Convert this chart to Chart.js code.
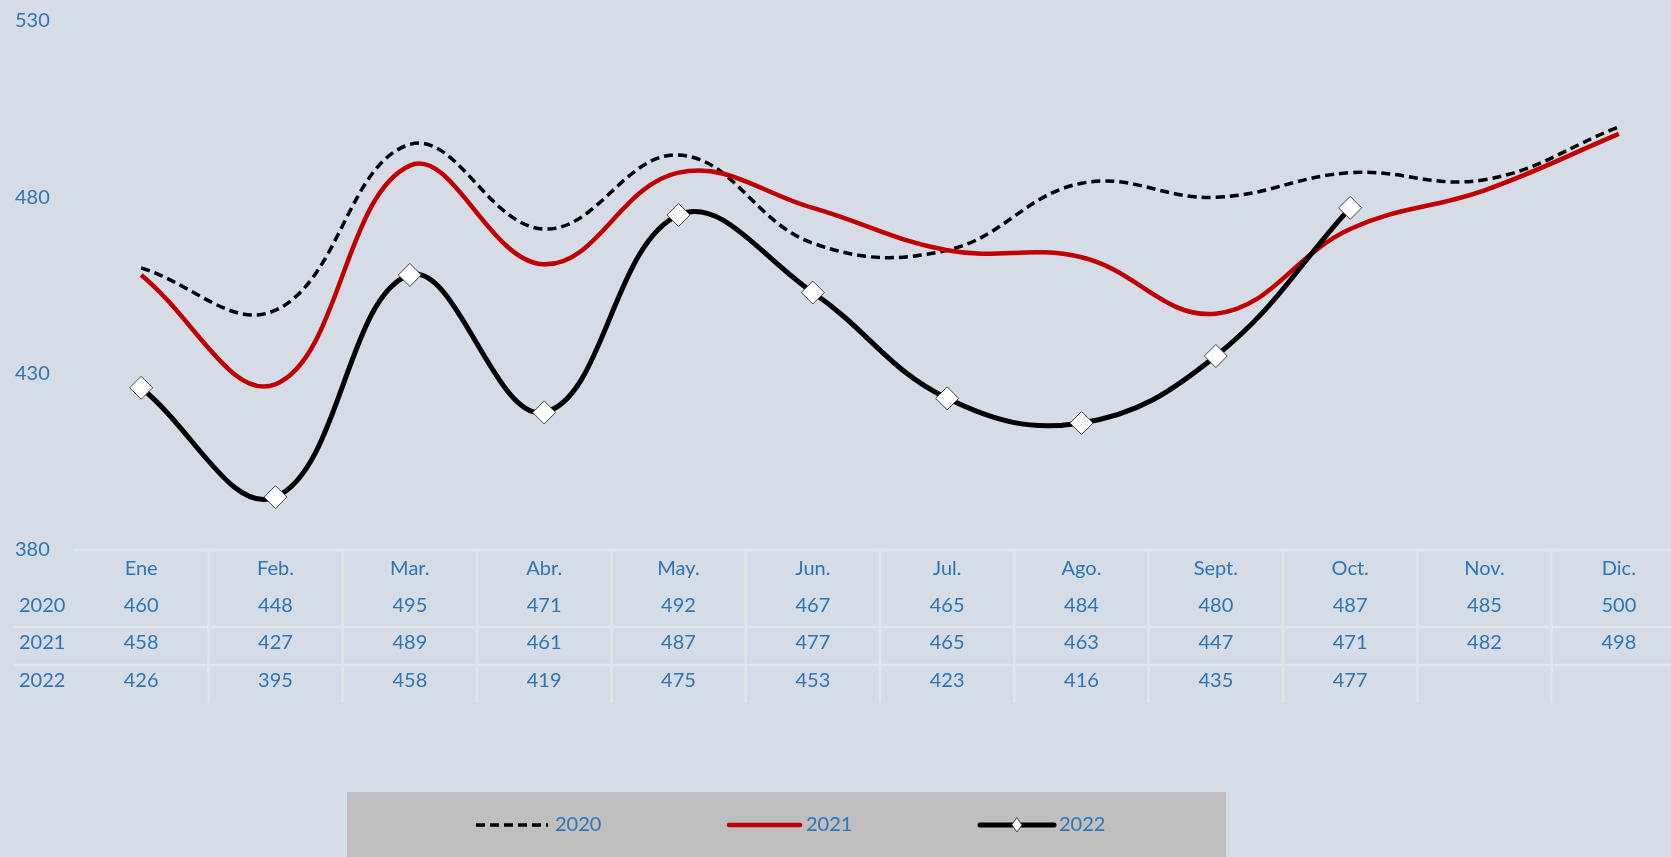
<!DOCTYPE html>
<html>
<head>
<meta charset="utf-8">
<script src="https://cdn.jsdelivr.net/npm/chart.js@4"></script>
<style>
  html, body { margin: 0; padding: 0; overflow: hidden; background: #d6dce5; }
  #wrap { position: relative; width: 1671px; height: 857px; overflow: hidden; }
  #chart { display: block; }
</style>
</head>
<body>
<!-- canvas is a bit wider than the page: the plot runs past the right edge, like the source sheet -->
<div id="wrap"><canvas id="chart" width="1686" height="857"></canvas></div>
<script>
// chart data
const months = ['Ene', 'Feb.', 'Mar.', 'Abr.', 'May.', 'Jun.', 'Jul.', 'Ago.', 'Sept.', 'Oct.', 'Nov.', 'Dic.'];
const seriesNames = ['2020', '2021', '2022'];
const values2020 = [460, 448, 495, 471, 492, 467, 465, 484, 480, 487, 485, 500];
const values2021 = [458, 427, 489, 461, 487, 477, 465, 463, 447, 471, 482, 498];
const values2022 = [426, 395, 458, 419, 475, 453, 423, 416, 435, 477, null, null];
const yTicks = [380, 430, 480, 530];

const textBlue = '#2e75b6';
const tableLine = '#e3e5e9';
const fontFamily = 'Lato, "Open Sans", sans-serif';

// draws the data table under the plot (months + values per series)
const dataTable = {
    id: 'dataTable',
    afterDraw(chart) {
        const { ctx, chartArea } = chart;
        const x = chart.scales.x;
        const step = x.getPixelForValue(1) - x.getPixelForValue(0);
        const top = chartArea.bottom;
        const right = chart.width;

        ctx.save();
        ctx.strokeStyle = tableLine;
        ctx.lineWidth = 2.5;
        ctx.beginPath();
        ctx.moveTo(chartArea.left - 1, top);
        ctx.lineTo(right, top);
        ctx.moveTo(13, top + 77);
        ctx.lineTo(right, top + 77);
        ctx.moveTo(13, top + 115);
        ctx.lineTo(right, top + 115);
        for (let i = 1; i < months.length; i++) {
            const xb = x.getPixelForValue(i) - step / 2;
            ctx.moveTo(xb, top + 1);
            ctx.lineTo(xb, top + 153);
        }
        ctx.stroke();

        ctx.fillStyle = textBlue;
        ctx.font = '20px ' + fontFamily;
        ctx.textBaseline = 'middle';
        ctx.textAlign = 'center';
        months.forEach((m, i) => ctx.fillText(m, x.getPixelForValue(i), top + 19));

        const rows = [values2020, values2021, values2022];
        const rowY = [top + 56, top + 93, top + 131];
        rows.forEach((vals, r) => {
            ctx.textAlign = 'left';
            ctx.fillText(seriesNames[r], 19, rowY[r]);
            ctx.textAlign = 'center';
            vals.forEach((v, i) => {
                if (v !== null) ctx.fillText(String(v), x.getPixelForValue(i), rowY[r]);
            });
        });
        ctx.restore();
    }
};

// legend in a grey box at the bottom
const boxLegend = {
    id: 'boxLegend',
    afterDraw(chart) {
        const { ctx } = chart;
        const y = 825;
        ctx.save();
        ctx.fillStyle = '#bfbfbf';
        ctx.fillRect(347, 792, 879, 70);

        const items = [
            { ds: chart.data.datasets[0], x0: 476, x1: 548, tx: 555 },
            { ds: chart.data.datasets[1], x0: 729, x1: 800, tx: 806 },
            { ds: chart.data.datasets[2], x0: 980, x1: 1054, tx: 1059 }
        ];
        items.forEach(it => {
            ctx.strokeStyle = it.ds.borderColor;
            ctx.lineWidth = it.ds.borderWidth;
            ctx.setLineDash(it.ds.borderDash || []);
            ctx.lineCap = it.ds.borderDash ? 'butt' : 'round';
            ctx.beginPath();
            ctx.moveTo(it.x0, y);
            ctx.lineTo(it.x1, y);
            ctx.stroke();
            ctx.setLineDash([]);
            if (it.ds.pointRadius) {
                const cx = (it.x0 + it.x1) / 2;
                ctx.fillStyle = '#ffffff';
                ctx.strokeStyle = '#404040';
                ctx.lineWidth = 1;
                ctx.beginPath();
                ctx.moveTo(cx, y - 7); ctx.lineTo(cx + 5, y); ctx.lineTo(cx, y + 7); ctx.lineTo(cx - 5, y);
                ctx.closePath();
                ctx.fill();
                ctx.stroke();
            }
            ctx.fillStyle = textBlue;
            ctx.font = '20px ' + fontFamily;
            ctx.textAlign = 'left';
            ctx.textBaseline = 'middle';
            ctx.fillText(it.ds.label, it.tx, y);
        });
        ctx.restore();
    }
};

const ctx = document.getElementById('chart');
new Chart(ctx, {
    type: 'line',
    data: {
        labels: months,
        datasets: [
            {
                label: seriesNames[0],
                data: values2020,
                borderColor: '#000000',
                borderWidth: 3.5,
                borderDash: [9, 5],
                pointRadius: 0,
                tension: 0.4,
                order: 2
            },
            {
                label: seriesNames[1],
                data: values2021,
                borderColor: '#c00000',
                borderWidth: 4.5,
                pointRadius: 0,
                tension: 0.4,
                order: 1
            },
            {
                label: seriesNames[2],
                data: values2022,
                borderColor: '#000000',
                borderWidth: 5,
                pointStyle: 'rectRot',
                pointRadius: 11.5,
                pointBackgroundColor: '#ffffff',
                pointBorderColor: '#404040',
                pointBorderWidth: 1,
                tension: 0.4,
                order: 0
            }
        ]
    },
    options: {
        responsive: false,
        animation: false,
        layout: {
            autoPadding: false,
            padding: { left: 15, top: 21, right: 0, bottom: 307 }
        },
        plugins: {
            legend: { display: false },
            tooltip: { enabled: false }
        },
        scales: {
            x: {
                display: false,
                offset: true
            },
            y: {
                min: yTicks[0],
                max: yTicks[yTicks.length - 1],
                afterFit(scale) { scale.width = 59; },
                afterBuildTicks(scale) { scale.ticks = yTicks.map(v => ({ value: v })); },
                grid: { display: false, drawTicks: false },
                border: { display: false },
                ticks: {
                    crossAlign: 'far',
                    padding: 0,
                    color: textBlue,
                    font: { family: fontFamily, size: 20 }
                }
            }
        }
    },
    plugins: [dataTable, boxLegend]
});
</script>
</body>
</html>
